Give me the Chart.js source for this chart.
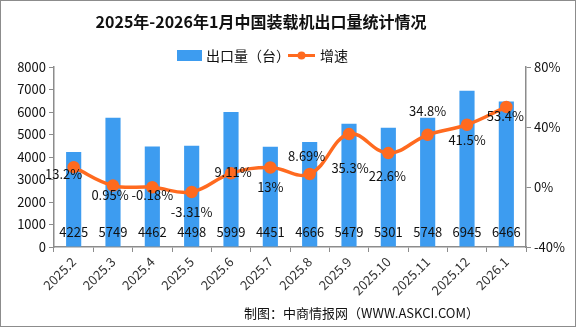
<!DOCTYPE html>
<html>
<head>
<meta charset="utf-8">
<script src="https://cdn.jsdelivr.net/npm/chart.js@4/dist/chart.umd.min.js"></script>
<style>
  html, body { margin: 0; padding: 0; background: #fff; }
  #wrap { width: 574px; height: 325px; border: 1px solid #8c8c8c; position: relative; }
  canvas { display: block; }
</style>
</head>
<body>
<div id="wrap"><canvas id="chart" width="574" height="325"></canvas></div>
<script>
const months = ['2025.2', '2025.3', '2025.4', '2025.5', '2025.6', '2025.7', '2025.8', '2025.9', '2025.10', '2025.11', '2025.12', '2026.1'];
const exportUnits = [4225, 5749, 4462, 4498, 5999, 4451, 4666, 5479, 5301, 5748, 6945, 6466];
const growthPct = [13.2, 0.95, -0.18, -3.31, 9.11, 13, 8.69, 35.3, 22.6, 34.8, 41.5, 53.4];
const leftTicks = [0, 1000, 2000, 3000, 4000, 5000, 6000, 7000, 8000];
const rightTicks = [-40, 0, 40, 80];

const titleText = '2025年-2026年1月中国装载机出口量统计情况';
const barName = '出口量（台）';
const lineName = '增速';
const sourceText = '制图：中商情报网（WWW.ASKCI.COM）';

const BLUE = '#3d9cf0';
const ORANGE = '#ff6a1f';
const AXIS = '#8c8c8c';
const FONT = '"Noto Sans CJK SC", "Noto Sans", sans-serif';

// where each growth label sits relative to its point (dx, dy)
const pctShift = [[-10, 7], [-3, 9], [0, 8], [0, 20], [2, -1], [0, 20], [-3, -18], [1, 34], [-1, 23], [0, -24], [0, 15], [-1, 9]];

const decorPlugin = {
  id: 'decor',
  afterDatasetsDraw(chart) {
    const ctx = chart.ctx;
    const yL = chart.scales.y;
    ctx.save();
    ctx.fillStyle = '#111';
    ctx.textAlign = 'center';
    ctx.textBaseline = 'middle';
    ctx.font = '13px ' + FONT;

    // dataset 0 is the line, dataset 1 the bars
    chart.getDatasetMeta(1).data.forEach((bar, i) => {
      ctx.fillText(String(exportUnits[i]), bar.x, yL.getPixelForValue(0) - 15);
    });
    chart.getDatasetMeta(0).data.forEach((pt, i) => {
      const s = pctShift[i];
      ctx.fillText(growthPct[i] + '%', pt.x + s[0], pt.y + s[1]);
    });

    // title
    ctx.font = 'bold 16px ' + FONT;
    ctx.fillText(titleText, 260, 21);

    // legend
    ctx.font = '14px ' + FONT;
    ctx.textAlign = 'left';
    ctx.fillStyle = BLUE;
    ctx.fillRect(176, 49, 25, 11);
    ctx.fillStyle = '#111';
    ctx.fillText(barName, 205, 55);
    ctx.strokeStyle = ORANGE;
    ctx.lineWidth = 3;
    ctx.beginPath();
    ctx.moveTo(287, 54.5);
    ctx.lineTo(314, 54.5);
    ctx.stroke();
    ctx.fillStyle = ORANGE;
    ctx.beginPath();
    ctx.arc(300.5, 54.5, 4, 0, Math.PI * 2);
    ctx.fill();
    ctx.fillStyle = '#111';
    ctx.fillText(lineName, 319, 55);

    // source note
    ctx.textAlign = 'right';
    ctx.font = '13px ' + FONT;
    ctx.fillText(sourceText, 478, 312);
    ctx.restore();
  }
};

new Chart(document.getElementById('chart'), {
  data: {
    labels: months,
    datasets: [
      {
        type: 'line',
        label: lineName,
        data: growthPct,
        yAxisID: 'y2',
        borderColor: ORANGE,
        backgroundColor: ORANGE,
        borderWidth: 3.5,
        tension: 0.4,
        pointRadius: 4.5,
        pointHoverRadius: 4.5,
        order: 0
      },
      {
        type: 'bar',
        label: barName,
        data: exportUnits,
        yAxisID: 'y',
        backgroundColor: BLUE,
        categoryPercentage: 1,
        barPercentage: 0.385,
        order: 1
      }
    ]
  },
  options: {
    responsive: false,
    animation: false,
    layout: { padding: { top: 66, left: 0, right: 0, bottom: 0 } },
    plugins: {
      legend: { display: false },
      title: { display: false },
      tooltip: { enabled: false }
    },
    scales: {
      x: {
        offset: true,
        grid: { drawOnChartArea: false, offset: true, tickLength: 5, color: AXIS },
        border: { color: AXIS, width: 1.5 },
        ticks: {
          color: '#333',
          font: { family: FONT, size: 13 },
          maxRotation: 45,
          minRotation: 45,
          padding: 2
        },
        afterFit: s => { s.height = 79; }
      },
      y: {
        position: 'left',
        min: 0,
        max: 8000,
        afterBuildTicks: s => { s.ticks = leftTicks.map(v => ({ value: v })); },
        grid: { drawOnChartArea: false, tickLength: 5, color: AXIS },
        border: { color: AXIS, width: 1.5 },
        ticks: {
          color: '#111',
          font: { family: FONT, size: 13 },
          padding: 3,
          callback: v => String(v)
        },
        afterFit: s => { s.width = 53; }
      },
      y2: {
        position: 'right',
        min: -40,
        max: 80,
        afterBuildTicks: s => { s.ticks = rightTicks.map(v => ({ value: v })); },
        grid: { drawOnChartArea: false, tickLength: 5, color: AXIS },
        border: { color: AXIS, width: 1.5 },
        ticks: {
          color: '#111',
          font: { family: FONT, size: 13 },
          padding: 3,
          callback: v => v + '%'
        },
        afterFit: s => { s.width = 49; }
      }
    }
  },
  plugins: [decorPlugin]
});
</script>
</body>
</html>
